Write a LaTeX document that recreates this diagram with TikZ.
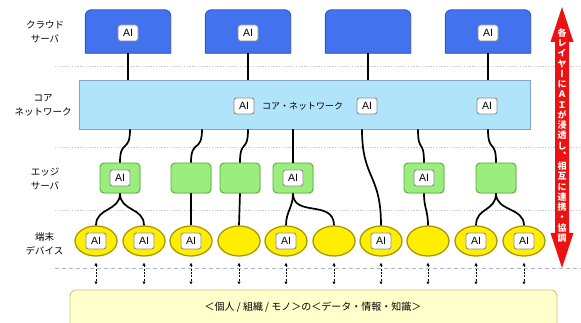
\documentclass[tikz,border=0pt]{standalone}
\usepackage{fontspec}
\setmainfont{Noto Sans CJK JP}
\newfontfamily\vjp[Vertical=Alternates]{Noto Sans CJK JP}
\newfontfamily\aifont{Liberation Sans}
\usetikzlibrary{shadows,arrows.meta,shapes.geometric}
\definecolor{cloudblue}{HTML}{4272EE}
\definecolor{cloudedge}{HTML}{2F56C4}
\definecolor{corefill}{HTML}{B0E4FA}
\definecolor{coreedge}{HTML}{7EA6C6}
\definecolor{edgefill}{HTML}{9CEE7C}
\definecolor{edgeedge}{HTML}{58AD3C}
\definecolor{devfill}{HTML}{FFEE00}
\definecolor{devedge}{HTML}{A89800}
\definecolor{basefill}{HTML}{FFFFCC}
\definecolor{baseedge}{HTML}{C9C48C}
\definecolor{arrowred}{HTML}{EE1111}
\definecolor{sepgray}{HTML}{CACACA}
\definecolor{sepblue}{HTML}{B0B6CA}
\begin{document}
\begin{tikzpicture}[x=1pt,y=-1pt,
  softshadow/.style={drop shadow={opacity=0.22,shadow xshift=1pt,shadow yshift=-1pt}},
  cloudbox/.style={fill=cloudblue,draw=cloudedge,line width=0.9pt,softshadow},
  aibox/.style={draw=black!45,fill=white,rounded corners=2.5pt,minimum width=20pt,minimum height=16pt,inner sep=0pt,line width=0.9pt,font=\aifont\fontsize{10.5}{10.5}\selectfont},
  corebox/.style={rectangle,fill=corefill,draw=coreedge,line width=0.8pt,minimum width=451pt,minimum height=49pt,inner sep=0pt,softshadow},
  edgebox/.style={rectangle,rounded corners=4pt,fill=edgefill,draw=edgeedge,line width=0.9pt,minimum width=40pt,minimum height=30pt,inner sep=0pt,softshadow},
  devbox/.style={ellipse,fill=devfill,draw=devedge,line width=1.3pt,minimum width=42pt,minimum height=30pt,inner sep=0pt},
  basebox/.style={rectangle,rounded corners=6pt,fill=basefill,draw=baseedge,line width=0.9pt,minimum width=487pt,minimum height=45pt,inner sep=0pt},
  link/.style={line width=1.7pt,black},
  sep/.style={sepgray,line width=0.8pt,dash pattern=on 1.4pt off 1.4pt},
  sepb/.style={sepblue,line width=0.8pt,dash pattern=on 4pt off 3pt},
  lbl/.style={font=\fontsize{9.5}{14}\selectfont,align=center,inner sep=0pt},
  devarrow/.style={line width=0.9pt,dash pattern=on 2pt off 1.3pt,{Latex[length=3pt,width=3.5pt]}-{Latex[length=3pt,width=3.5pt]}},
  vtext/.style={text=white,font=\vjp\bfseries\fontsize{9}{9}\selectfont,text height=7.5pt,text depth=0.7pt,inner sep=0pt}
]
\useasboundingbox (0,0) rectangle (581,323);

% separators
\draw[sep] (55,66) -- (581,66);
\draw[sep] (55,147) -- (581,147);
\draw[sep] (55,210) -- (581,210);
\draw[sepb] (55,268) -- (581,268);

% left labels
\node[lbl] (lcloud) at (45,32) {クラウド\\サーバ};
\node[lbl] (lcore) at (43,105) {コア\\ネットワーク};
\node[lbl] (ledge) at (45,178.5) {エッジ\\サーバ};
\node[lbl] (ldev) at (44.5,244) {端末\\デバイス};

% cloud servers
\foreach \n/\x in {c1/128,c2/248,c3/368,c4/488}{
  \node[minimum width=85pt,minimum height=43pt,inner sep=0pt] (\n) at (\x,31.5) {};
}
\foreach \n in {c1,c2,c3,c4}{
  \path[cloudbox] (\n.south west) [rounded corners=6pt] -- (\n.north west) -- (\n.north east) [sharp corners] -- (\n.south east) -- cycle;
}
\node[aibox] (c1ai) at (128,33) {AI};
\node[aibox] (c2ai) at (248,33) {AI};
\node[aibox] (c4ai) at (488,33) {AI};

% core network
\foreach \n in {c1,c2,c3,c4}{
  \coordinate (\n b) at (\n.south |- 0,82);
  \draw[link] (\n.south) -- (\n b);
}
\node[corebox] (core) at (304.5,104.5) {};
\node[aibox] (k1ai) at (244,106) {AI};
\node[anchor=west,inner sep=0pt,font=\fontsize{9}{9}\selectfont] (coretext) at (262,106) {コア・ネットワーク};
\node[aibox] (k2ai) at (367,106) {AI};
\node[aibox] (k3ai) at (487,106) {AI};

% edge servers
\node[edgebox] (e1) at (120,178) {};
\node[edgebox] (e2) at (191,178) {};
\node[edgebox] (e3) at (240,178) {};
\node[edgebox] (e4) at (293,178) {};
\node[edgebox] (e5) at (424,178) {};
\node[edgebox] (e6) at (496,178) {};
\node[aibox] (e1ai) at (e1) {AI};
\node[aibox] (e4ai) at (e4) {AI};
\node[aibox] (e5ai) at (e5) {AI};

% devices
\foreach \i/\x in {1/96,2/144,3/191,4/239,5/286,6/334,7/381,8/428,9/476,10/524}{
  \node[devbox] (d\i) at (\x,241) {};
}
\foreach \i in {1,2,3,5,7,9,10}{
  \node[aibox] (d\i ai) at (d\i) {AI};
}

% core -> edge links
\draw[link] (core.south -| 130,0) .. controls +(0,24) and +(0,-24) .. (e1.north);
\draw[link] (core.south -| 202,0) .. controls +(0,24) and +(0,-24) .. (e2.north);
\draw[link] (core.south -| 248,0) .. controls +(0,24) and +(0,-24) .. (e3.north);
\draw[link] (e4.north |- core.south) -- (e4.north);
\draw[link] (core.south -| 362,0) .. controls +(0,50) and +(0,-52) .. (d7.north);
\draw[link] (core.south -| 418,0) .. controls +(0,24) and +(0,-24) .. (e5.north);
\draw[link] (core.south -| 488,0) .. controls +(0,24) and +(0,-24) .. (e6.north);

% edge -> device links
\draw[link] (e1.south) .. controls +(0,18) and +(0,-18) .. (d1.north);
\draw[link] (e1.south) .. controls +(0,18) and +(0,-18) .. (d2.north);
\draw[link] (e2.south) -- (d3.north);
\draw[link] (e3.south) -- (d4.north);
\draw[link] (e4.south) .. controls +(0,14) and +(0,-14) .. (d5.north);
\draw[link] (e4.south) .. controls +(0,24) and +(0,-26) .. (d6.north);
\draw[link] (e5.south) .. controls +(0,15) and +(0,-15) .. (d8.north);
\draw[link] (e6.south) .. controls +(0,18) and +(0,-18) .. (d9.north);
\draw[link] (e6.south) .. controls +(0,18) and +(0,-18) .. (d10.north);

% base
\node[basebox] (base) at (313.5,312.5) {};
\node[inner sep=0pt,font=\fontsize{10}{10}\selectfont] (basetext) at (313,307) {＜個人 / 組織 / モノ＞の＜データ・情報・知識＞};

% device <-> base arrows
\foreach \i in {1,...,10}{
  \draw[devarrow] ([yshift=-6pt]d\i.south) -- ([yshift=5pt]d\i.south |- base.north);
}

% red double arrow
\fill[arrowred] (562,7) -- (573.5,42) -- (569,42) -- (569,233) -- (573.5,233) -- (562,268) -- (550.5,233) -- (555,233) -- (555,42) -- (550.5,42) -- cycle;
\foreach \c [count=\i from 0] in {各,レ,イ,ヤ,ー,に,Ａ,Ｉ,が,浸,透,し,、,相,互,に,連,携,・,協,調}{
  \node[vtext] (v\i) at (562,{33+\i*10.25}) {\c};
}
\end{tikzpicture}
\end{document}
